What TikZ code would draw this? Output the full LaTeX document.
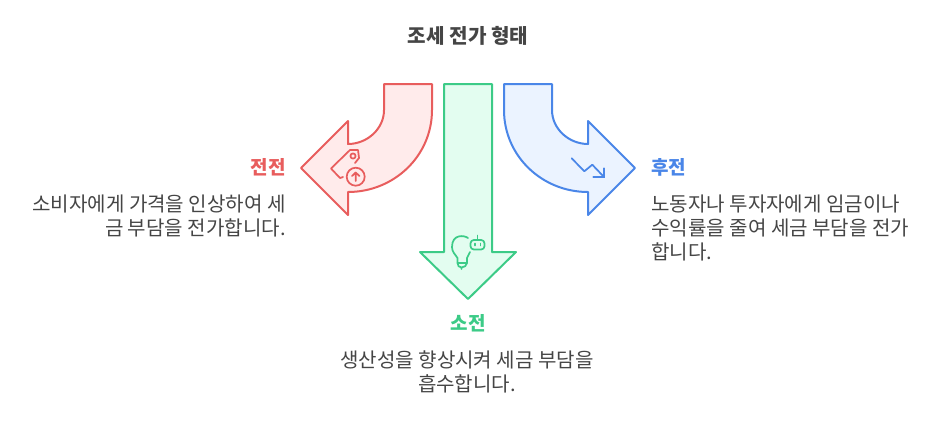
\documentclass[tikz,border=0pt]{standalone}
\usepackage{xcolor}
\usepackage{fontspec}
\setmainfont{Noto Sans CJK KR}
\usetikzlibrary{arrows.meta,positioning}
\definecolor{frontred}{HTML}{E85D5D}
\definecolor{frontfill}{HTML}{FFEBEB}
\definecolor{absorbgreen}{HTML}{3CCB87}
\definecolor{absorbfill}{HTML}{E3FDF0}
\definecolor{backblue}{HTML}{4A86E8}
\definecolor{backfill}{HTML}{EBF3FF}
\definecolor{textgray}{HTML}{454545}

\begin{document}
\begin{tikzpicture}[
  x=0.75pt, y=-0.75pt,
  every node/.style={inner sep=0pt, text=textgray},
  titlelab/.style={font=\fontsize{15.1}{18}\selectfont\bfseries},
  headlab/.style={font=\fontsize{14.25}{18}\selectfont\bfseries},
  bodylab/.style={font=\fontsize{15.05}{18}\selectfont},
  bigarrow/.style={line width=1.5pt, line join=round},
  icon/.style={line width=1.3pt, line cap=round, line join=round}
]
\useasboundingbox (0,0) rectangle (936,444);

\node[titlelab] (title) at (468,36) {조세 전가 형태};

% arrows
\draw[bigarrow, draw=frontred, fill=frontfill] (384,84) -- (432,84) -- (432,110)
  .. controls (432,156) and (394,192) .. (348,192) -- (348,215) -- (301,168) -- (348,121) -- (348,144)
  .. controls (367,144) and (384,129) .. (384,110) -- cycle;
\draw[bigarrow, draw=absorbgreen, fill=absorbfill] (444,84) -- (492,84) -- (492,252) -- (516,252)
  -- (468,299) -- (420,252) -- (444,252) -- cycle;
\draw[bigarrow, draw=backblue, fill=backfill] (504,84) -- (552,84) -- (552,110)
  .. controls (552,129) and (569,144) .. (588,144) -- (588,121) -- (635,168) -- (588,215) -- (588,192)
  .. controls (542,192) and (504,156) .. (504,110) -- cycle;

% icons
\draw[icon, draw=frontred] (343,177) -- (340,178) -- (331,168.5) -- (350,150) -- (358,150)
  -- (359,158) -- (355,163);
\draw[icon, draw=frontred] (353,156) circle (2.6);
\draw[icon, draw=frontred] (355.7,176.7) circle (9);
\draw[icon, draw=frontred] (355.7,181) -- (355.7,172.5) (352,176) -- (355.7,172.5) -- (359.4,176);

\draw[icon, draw=absorbgreen] (468,238) .. controls (464,235) and (452,234) .. (452,247)
  .. controls (452,252) and (455,254) .. (457.5,258) -- (457.5,263) -- (467,263) -- (467,258)
  .. controls (468,256) and (469,254) .. (470,252);
\draw[icon, draw=absorbgreen] (457.5,263) .. controls (457.5,266) and (459,267) .. (461.5,267.5)
  .. controls (464,267) and (467,266) .. (467,263) (461.5,267.5) -- (461.5,269);
\draw[icon, draw=absorbgreen, rounded corners=2.5pt] (470.5,240) rectangle (484.5,249.5);
\draw[icon, draw=absorbgreen] (477.5,235.5) -- (477.5,240);
\draw[icon, draw=absorbgreen] (475,243.5) -- (475,245.5) (480.5,243.5) -- (480.5,245.5);

\draw[icon, draw=backblue] (571.7,158.3) -- (584.3,171.3) -- (592.3,164.7) -- (604.3,177.3);
\draw[icon, draw=backblue] (604.3,168.3) -- (604.3,177.3) -- (593.3,177.3);

% labels
\node[headlab, text=frontred, anchor=east] (fronthead) at (286,167) {전전};
\node[bodylab, align=right, anchor=north east] (frontbody) at (286,194.5) {소비자에게 가격을 인상하여 세\\금 부담을 전가합니다.};
\node[headlab, text=absorbgreen] (absorbhead) at (468,323) {소전};
\node[bodylab, align=center, anchor=north] (absorbbody) at (467,350.5) {생산성을 향상시켜 세금 부담을\\흡수합니다.};
\node[headlab, text=backblue, anchor=west] (backhead) at (651,167) {후전};
\node[bodylab, align=left, anchor=north west] (backbody) at (651,194.5) {노동자나 투자자에게 임금이나\\수익률을 줄여 세금 부담을 전가\\합니다.};
\end{tikzpicture}
\end{document}
